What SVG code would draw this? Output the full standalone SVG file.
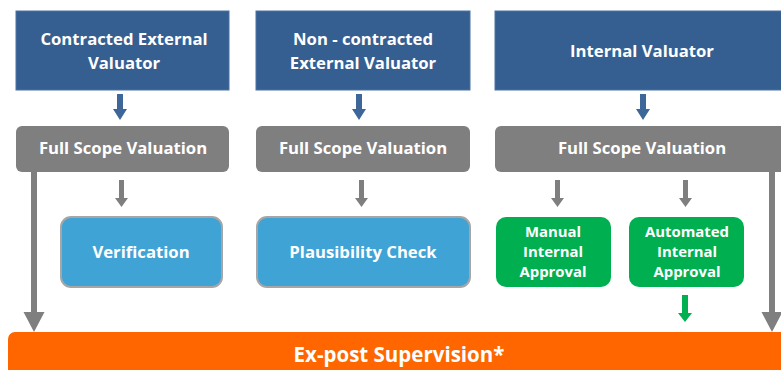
<svg xmlns="http://www.w3.org/2000/svg" width="781" height="370" viewBox="0 0 781 370">
  <style>
    text { font-family: "Open Sans", "Liberation Sans", sans-serif; font-weight: 700; fill: #ffffff; text-anchor: middle; }
    .t16 { font-size: 16.7px; }
    .t14 { font-size: 14.9px; }
    .src { fill: #365f91; stroke: #4a72a6; stroke-width: 1; }
    .scope { fill: #7f7f7f; }
    .check { fill: #3fa3d6; stroke: #a6a6a6; stroke-width: 2; }
    .approval { fill: #00b050; }
    .sup { fill: #ff6600; }
    .a-blue { fill: #3d6699; }
    .a-gray { fill: #7f7f7f; }
    .a-green { fill: #00b050; }
  </style>

  <!-- valuator sources -->
  <g id="contracted-external">
    <rect class="src" x="16" y="11" width="213" height="79"/>
    <text class="t16" x="124" y="45">Contracted External</text>
    <text class="t16" x="124" y="69">Valuator</text>
  </g>
  <g id="non-contracted-external">
    <rect class="src" x="256" y="11" width="214" height="79"/>
    <text class="t16" x="363" y="45">Non - contracted</text>
    <text class="t16" x="363" y="69">External Valuator</text>
  </g>
  <g id="internal-valuator">
    <rect class="src" x="495" y="11" width="290" height="79"/>
    <text class="t16" x="642" y="57">Internal Valuator</text>
  </g>

  <!-- full scope valuations -->
  <g id="full-scope-1">
    <rect class="scope" x="16" y="126" width="213" height="46" rx="6"/>
    <text class="t16" x="123" y="154">Full Scope Valuation</text>
  </g>
  <g id="full-scope-2">
    <rect class="scope" x="256" y="126" width="214" height="46" rx="6"/>
    <text class="t16" x="363" y="154">Full Scope Valuation</text>
  </g>
  <g id="full-scope-3">
    <rect class="scope" x="495" y="126" width="295" height="46" rx="6"/>
    <text class="t16" x="642" y="154">Full Scope Valuation</text>
  </g>

  <!-- checks / approvals -->
  <g id="verification">
    <rect class="check" x="61" y="217" width="161" height="70" rx="10"/>
    <text class="t16" x="141" y="258">Verification</text>
  </g>
  <g id="plausibility-check">
    <rect class="check" x="257" y="217" width="213" height="70" rx="10"/>
    <text class="t16" x="363" y="258">Plausibility Check</text>
  </g>
  <g id="manual-internal-approval">
    <rect class="approval" x="496" y="217" width="115" height="70" rx="10"/>
    <text class="t14" x="553" y="237">Manual</text>
    <text class="t14" x="553" y="257">Internal</text>
    <text class="t14" x="553" y="277">Approval</text>
  </g>
  <g id="automated-internal-approval">
    <rect class="approval" x="629" y="217" width="115" height="70" rx="10"/>
    <text class="t14" x="687" y="237">Automated</text>
    <text class="t14" x="687" y="257">Internal</text>
    <text class="t14" x="687" y="277">Approval</text>
  </g>

  <!-- supervision bar -->
  <g id="ex-post-supervision">
    <rect class="sup" x="8" y="332" width="790" height="50" rx="7"/>
    <text x="399" y="362" style="font-size:20.5px">Ex-post Supervision*</text>
  </g>

  <!-- block arrows -->
  <g id="connectors">
    <polygon class="a-blue" points="117,94 123,94 123,109 127,109 120,120 113,109 117,109"/>
    <polygon class="a-blue" points="356,94 362,94 362,109 366,109 359,120 352,109 356,109"/>
    <polygon class="a-blue" points="640,94 646,94 646,109 650,109 643,120 636,109 640,109"/>

    <polygon class="a-gray" points="119,180 124,180 124,198 128,198 121.5,207 115,198 119,198"/>
    <polygon class="a-gray" points="359,180 364,180 364,198 368,198 361.5,207 355,198 359,198"/>
    <polygon class="a-gray" points="555,180 560,180 560,198 564,198 557.5,207 551,198 555,198"/>
    <polygon class="a-gray" points="683,180 688,180 688,198 692,198 685.5,207 679,198 683,198"/>

    <polygon class="a-gray" points="31,172 37,172 37,312 44.5,312 34,332 23.5,312 31,312"/>
    <polygon class="a-gray" points="769,172 775,172 775,312 782.5,312 772,332 761.5,312 769,312"/>

    <polygon class="a-green" points="682,295 688,295 688,313 692,313 685,322 678,313 682,313"/>
  </g>
</svg>
